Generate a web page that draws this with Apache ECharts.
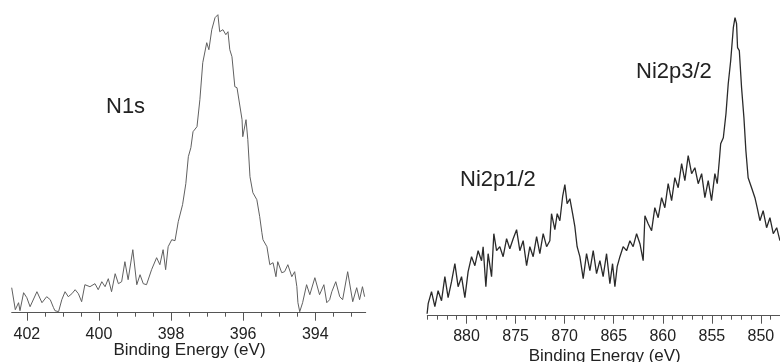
<!DOCTYPE html>
<html><head><meta charset="utf-8">
<script src="https://cdn.jsdelivr.net/npm/echarts@6/dist/echarts.min.js"></script>
<style>html,body{margin:0;padding:0;background:#fff}#c{width:780px;height:362px}</style>
</head><body><div id="c"></div>
<script>
// N1s spectrum: binding energy (eV) and intensity (a.u.)
const n1sEnergy = [402.42,402.32,402.23,402.19,402.09,402.00,401.91,401.72,401.58,401.45,401.35,401.26,401.22,401.12,401.03,400.94,400.85,400.75,400.66,400.57,400.48,400.39,400.25,400.11,400.02,399.92,399.83,399.74,399.65,399.55,399.46,399.37,399.28,399.19,399.06,398.95,398.86,398.77,398.68,398.54,398.40,398.31,398.22,398.15,398.08,397.98,397.89,397.80,397.68,397.59,397.52,397.45,397.39,397.28,397.20,397.12,397.01,396.95,396.87,396.78,396.70,396.65,396.56,396.48,396.42,396.37,396.31,396.23,396.17,396.03,396.01,395.92,395.87,395.81,395.73,395.62,395.54,395.48,395.45,395.34,395.26,395.17,395.09,395.04,394.93,394.85,394.76,394.65,394.57,394.51,394.48,394.43,394.35,394.24,394.15,394.01,393.88,393.76,393.68,393.60,393.54,393.43,393.32,393.24,393.10,392.96,392.85,392.77,392.69,392.63];
const n1sIntensity = [25,3,10,2,20,15,6,21,10,16,13,5,2,1,13,21,16,19,23,19,11,28,26,29,23,31,26,34,21,39,29,31,51,33,63,28,38,29,28,43,55,48,63,43,66,73,72,91,108,129,156,165,181,186,213,250,270,263,283,295,298,281,283,278,281,263,256,226,225,193,176,193,173,136,120,113,96,80,73,66,48,50,36,51,40,41,48,36,41,26,10,1,10,28,18,35,18,28,10,13,21,31,16,13,41,11,25,13,26,16];

// Ni2p spectrum
const ni2pEnergy = [884.02,883.91,883.57,883.23,882.90,882.55,882.21,881.88,881.53,881.19,880.86,880.51,880.17,879.84,879.49,879.15,878.82,878.47,878.31,878.03,877.80,877.45,877.22,876.94,876.61,876.27,875.92,875.59,875.25,874.90,874.57,874.23,873.88,873.55,873.21,872.86,872.53,872.19,871.84,871.51,871.34,871.00,870.76,870.49,870.21,869.98,869.75,869.47,869.19,868.96,868.73,868.45,868.11,867.77,867.43,867.09,866.75,866.41,866.08,865.73,865.39,865.12,864.88,864.65,864.37,864.04,863.69,863.35,863.02,862.67,862.33,862.00,861.82,861.65,861.49,861.14,860.81,860.47,860.12,859.79,859.45,859.10,858.77,858.43,858.08,857.75,857.41,857.06,856.73,856.39,856.04,855.71,855.37,855.03,854.69,854.45,854.24,854.10,853.83,853.56,853.33,853.08,852.81,852.64,852.48,852.38,852.20,851.97,851.73,851.53,851.30,850.95,850.61,850.38,850.10,849.77,849.42,849.08,848.74,848.39,848.06];
const ni2pIntensity = [2,12,24,9,25,15,39,18,34,52,29,39,18,44,59,50,65,55,69,29,62,39,82,65,69,59,77,67,77,86,65,75,50,69,59,79,62,82,69,75,102,86,102,95,119,131,112,117,102,89,69,59,37,62,45,65,42,55,39,62,32,52,29,49,59,69,65,75,69,82,72,55,100,98,92,85,108,98,118,108,132,115,138,128,152,135,160,142,148,132,142,118,135,115,142,132,155,172,178,202,232,255,288,298,292,268,265,228,198,165,138,128,118,108,95,105,88,98,82,88,75];

// Tick labels / tick positions
const n1sMajorTicks = [402,400,398,396,394];
const n1sMinorTicks = [402,401.5,401,400.5,400,399.5,399,398.5,398,397.5,397,396.5,396,395.5,395,394.5,394,393.5,393];
const ni2pMajorTicks = [880,875,870,865,860,855,850];
const ni2pMinorTicks = [884,883,882,881,880,879,878,877,876,875,874,873,872,871,870,869,868,867,866,865,864,863,862,861,860,859,858,857,856,855,854,853,852,851,850,849,848];

const peakLabels = ['N1s','Ni2p1/2','Ni2p3/2'];
const axisTitle = 'Binding Energy (eV)';

const pair = (xs, ys) => xs.map((x, i) => [x, ys[i]]);
const FONT = '"Liberation Sans", Arial, sans-serif';
const axisCol = '#555';

function majorAxis(grid, min, max, ticks, labelMargin) {
  return {
    type: 'value', gridIndex: grid, min: min, max: max, inverse: true, position: 'bottom',
    axisLine: { show: true, lineStyle: { color: axisCol, width: 1 } },
    axisTick: { show: true, length: 8, inside: false, customValues: ticks, lineStyle: { color: axisCol } },
    axisLabel: { show: true, customValues: ticks, margin: labelMargin, fontFamily: FONT, fontSize: 16, color: '#222',
                 hideOverlap: false, showMinLabel: true, showMaxLabel: true },
    splitLine: { show: false }
  };
}
function minorAxis(grid, min, max, ticks) {
  return {
    type: 'value', gridIndex: grid, min: min, max: max, inverse: true, position: 'bottom', offset: 0,
    axisLine: { show: false },
    axisTick: { show: true, length: 4, customValues: ticks, lineStyle: { color: axisCol } },
    axisLabel: { show: false, customValues: ticks },
    splitLine: { show: false }
  };
}

const chart = echarts.init(document.getElementById('c'), null, { renderer: 'canvas' });
chart.setOption({
  animation: false,
  backgroundColor: '#fff',
  grid: [
    { left: 11.7, right: 414.3, top: 12.7, bottom: 49.3, containLabel: false, outerBoundsMode: 'none' },
    { left: 427.3, right: -2, top: 15.7, bottom: 46.3, containLabel: false, outerBoundsMode: 'none' }
  ],
  xAxis: [
    majorAxis(0, 392.6, 402.42, n1sMajorTicks, 14),
    minorAxis(0, 392.6, 402.42, n1sMinorTicks),
    majorAxis(1, 847.85, 884.0, ni2pMajorTicks, 13),
    minorAxis(1, 847.85, 884.0, ni2pMinorTicks)
  ],
  yAxis: [
    { type: 'value', gridIndex: 0, min: 0, max: 300, show: false },
    { type: 'value', gridIndex: 1, min: 0, max: 300, show: false }
  ],
  series: [
    { type: 'line', xAxisIndex: 0, yAxisIndex: 0, data: pair(n1sEnergy, n1sIntensity), symbol: 'none',
      lineStyle: { color: '#606060', width: 1 } },
    { type: 'line', xAxisIndex: 2, yAxisIndex: 1, data: pair(ni2pEnergy, ni2pIntensity), symbol: 'none',
      lineStyle: { color: '#2a2a2a', width: 1.3 } }
  ],
  graphic: [
    { type: 'text', left: 106, top: 96, style: { text: peakLabels[0], font: '22px ' + FONT, fill: '#222' } },
    { type: 'text', left: 460, top: 169, style: { text: peakLabels[1], font: '22px ' + FONT, fill: '#222' } },
    { type: 'text', left: 636, top: 61, style: { text: peakLabels[2], font: '22px ' + FONT, fill: '#222' } },
    { type: 'text', x: 189.5, y: 350, style: { text: axisTitle, font: '17px ' + FONT, fill: '#222', align: 'center', verticalAlign: 'middle' } },
    { type: 'text', x: 604.7, y: 356, style: { text: axisTitle, font: '17px ' + FONT, fill: '#222', align: 'center', verticalAlign: 'middle' } }
  ]
});
</script></body></html>
